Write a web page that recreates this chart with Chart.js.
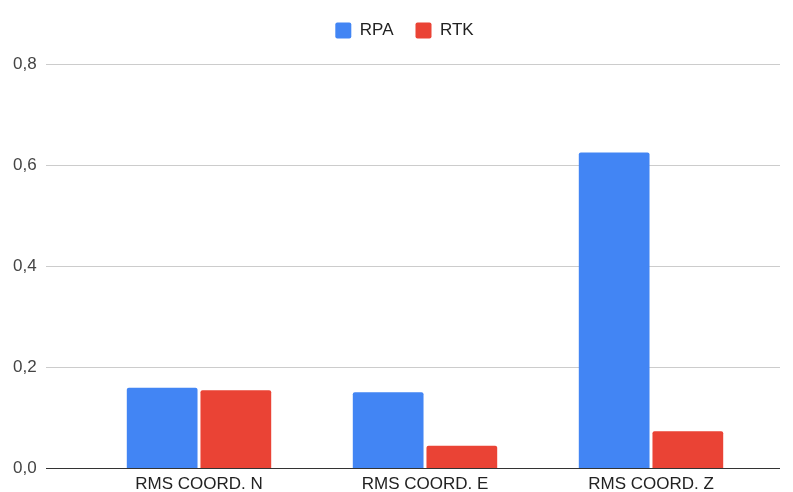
<!DOCTYPE html>
<html>
<head>
<meta charset="utf-8">
<script src="https://cdn.jsdelivr.net/npm/chart.js@4/dist/chart.umd.min.js"></script>
<style>
  html, body { margin: 0; padding: 0; background: #fff; }
  #wrap { width: 793px; height: 492px; }
</style>
</head>
<body>
<div id="wrap"><canvas id="c" width="793" height="492"></canvas></div>
<script>
const categories = ['RMS COORD. N', 'RMS COORD. E', 'RMS COORD. Z'];
const rpaValues = [0.159, 0.150, 0.625];
const rtkValues = [0.154, 0.044, 0.073];
const yTicks = [0, 0.2, 0.4, 0.6, 0.8];

const FONT = '"Liberation Sans", Arial, sans-serif';

// Horizontal gridlines that run a little past the plot area, plus the dark zero line
const wideGrid = {
  id: 'wideGrid',
  beforeDatasetsDraw(chart, args, opts) {
    const y = chart.scales.y, area = chart.chartArea, ctx = chart.ctx;
    ctx.save();
    ctx.strokeStyle = '#cccccc';
    ctx.lineWidth = 1;
    y.ticks.forEach(t => {
      if (t.value === 0) return;
      const py = Math.round(y.getPixelForValue(t.value)) + 0.5;
      ctx.beginPath();
      ctx.moveTo(area.left - opts.extendLeft, py);
      ctx.lineTo(area.right + opts.extendRight, py);
      ctx.stroke();
    });
    ctx.restore();
  },
  afterDatasetsDraw(chart, args, opts) {
    const y = chart.scales.y, area = chart.chartArea, ctx = chart.ctx;
    const py = Math.round(y.getPixelForValue(0)) + 0.5;
    ctx.save();
    ctx.strokeStyle = '#333333';
    ctx.lineWidth = 1;
    ctx.beginPath();
    ctx.moveTo(area.left - opts.extendLeft, py);
    ctx.lineTo(area.right + opts.extendRight, py);
    ctx.stroke();
    ctx.restore();
  }
};

// Extra space between the legend and the plot, and a small nudge of the legend to the right
const legendGap = {
  id: 'legendGap',
  beforeInit(chart) {
    const fit = chart.legend.fit;
    chart.legend.fit = function () {
      fit.call(this);
      this.height += 15;
    };
  },
  afterLayout(chart) {
    chart.legend.left += 16;
    chart.legend.right += 16;
  }
};

new Chart(document.getElementById('c'), {
  type: 'bar',
  data: {
    labels: categories,
    datasets: [
      { label: 'RPA', data: rpaValues, backgroundColor: '#4285F4', borderRadius: { topLeft: 2, topRight: 2 }, borderSkipped: 'bottom' },
      { label: 'RTK', data: rtkValues, backgroundColor: '#EA4335', borderRadius: { topLeft: 2, topRight: 2 }, borderSkipped: 'bottom' }
    ]
  },
  options: {
    responsive: false,
    animation: false,
    devicePixelRatio: 1,
    layout: { padding: { left: 13, right: 29, top: 0, bottom: 0 } },
    datasets: { bar: { categoryPercentage: 0.652, barPercentage: 0.96 } },
    plugins: {
      legend: {
        position: 'top',
        align: 'center',
        labels: {
          font: { family: FONT, size: 17 },
          color: '#222222',
          boxWidth: 16,
          boxHeight: 16,
          padding: 22,
          useBorderRadius: true,
          borderRadius: 2
        }
      },
      tooltip: { enabled: false },
      wideGrid: { extendLeft: 40, extendRight: 16 }
    },
    scales: {
      x: {
        afterFit(scale) { scale.height = 24; },
        grid: { display: false, drawTicks: false },
        border: { display: false },
        ticks: { font: { family: FONT, size: 17 }, color: '#222222', padding: 6 }
      },
      y: {
        min: 0,
        max: 0.8,
        afterBuildTicks(scale) { scale.ticks = yTicks.map(v => ({ value: v })); },
        afterFit(scale) { scale.width = 73; },
        grid: { display: false, drawTicks: false },
        border: { display: false },
        ticks: {
          font: { family: FONT, size: 17 },
          color: '#444444',
          padding: 2,
          crossAlign: 'far',
          callback: v => v.toFixed(1).replace('.', ',')
        }
      }
    }
  },
  plugins: [wideGrid, legendGap]
});
</script>
</body>
</html>
